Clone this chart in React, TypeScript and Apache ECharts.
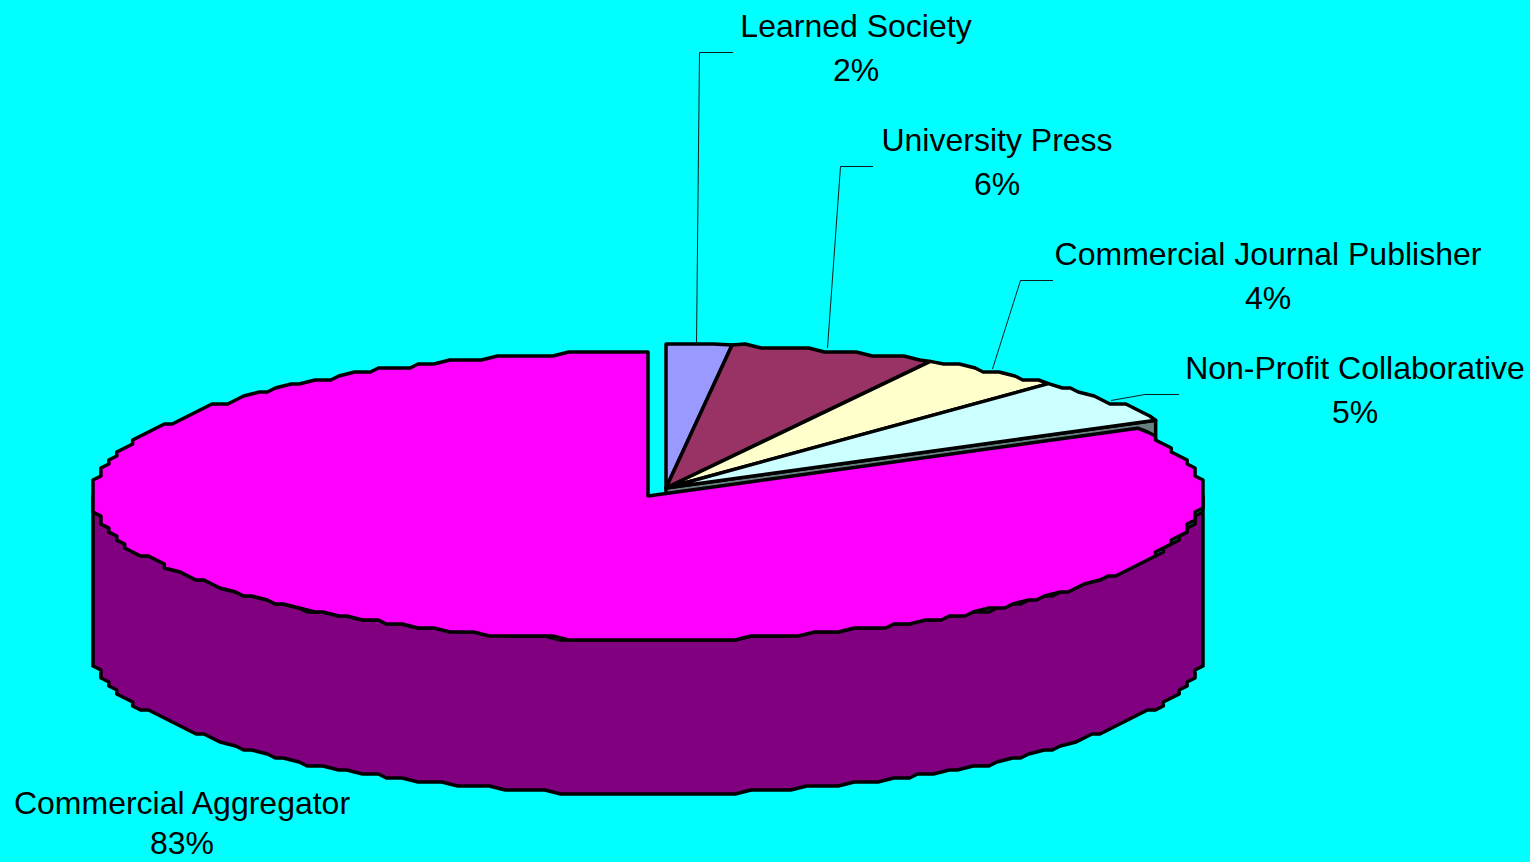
import React, { useEffect, useRef } from "react";
import * as echarts from "echarts";

const categories = ["Learned Society", "University Press", "Commercial Journal Publisher", "Non-Profit Collaborative", "Commercial Aggregator"];
const shares = [1.9, 6.0, 4.2, 5.1, 82.8];
const topColors = ["#9999FF", "#993366", "#FFFFCC", "#CCFFFF", "#FF00FF"];
const sideColors = ["#4D4D80", "#4D1A33", "#808066", "#668080", "#800080"];

const RX = 555, RY = 144, DEPTH = 154;
const pulledCentre: [number, number] = [666, 488];
const mainCentre: [number, number] = [648, 496];
const labelPos: [number, number, number][] = [[856, 26, 70], [997, 140, 184], [1268, 254, 298], [1355, 368, 412], [182, 803, 843]];
const leaders: [number, number][][] = [
  [[733, 52.5], [699.5, 52.5], [696.5, 344]],
  [[873, 166.5], [840.5, 166.5], [827.5, 348]],
  [[1053, 280.5], [1020.5, 280.5], [992.5, 369]],
  [[1179, 394.5], [1145, 394.5], [1111, 400.5]],
];

const total = shares.reduce((a, b) => a + b, 0);
const GX = RX / 70, GY = RY / 36;
const snap = (v: number, g: number) => Math.round(v / g) * g;

function rim(c: [number, number], fromDeg: number, toDeg: number, dy = 0): number[][] {
  const pts: number[][] = [];
  const step = 1.6;
  const n = Math.max(1, Math.round((toDeg - fromDeg) / step));
  for (let i = 0; i <= n; i++) {
    const t = ((fromDeg + ((toDeg - fromDeg) * i) / n) * Math.PI) / 180;
    const x = RX * Math.sin(t);
    const y = -RY * Math.cos(t);
    const edge = i === 0 || i === n;
    pts.push([c[0] + (edge ? x : snap(x, GX)), c[1] + (edge ? y : snap(y, GY)) + dy]);
  }
  return pts;
}

const edgeStyle = { stroke: "#000000", lineWidth: 3.5, lineJoin: "round" as const };

function renderItem(params: any, api: any) {
  const i = params.dataIndex;
  const before = shares.slice(0, i).reduce((a, b) => a + b, 0);
  const from = (before / total) * 360;
  const to = from + (Number(api.value(0)) / total) * 360;
  const isMain = i === categories.length - 1;
  const c = isMain ? mainCentre : pulledCentre;
  const children: any[] = [];

  if (isMain) {
    const topArc = rim(c, 90, 270);
    const lowArc = rim(c, 90, 270, DEPTH).reverse();
    children.push({ type: "polygon", shape: { points: [...topArc, ...lowArc] }, style: { fill: sideColors[i], ...edgeStyle } });
  } else if (i === categories.length - 2) {
    const e = rim(c, to, to)[0];
    children.push({
      type: "polygon",
      shape: { points: [c, e, [e[0], e[1] + DEPTH], [c[0], c[1] + DEPTH]] },
      style: { fill: sideColors[i], ...edgeStyle },
    });
  }
  children.push({ type: "polygon", shape: { points: [c, ...rim(c, from, to)] }, style: { fill: topColors[i], ...edgeStyle } });

  if (leaders[i]) {
    children.push({ type: "polyline", shape: { points: leaders[i] }, style: { stroke: "#0a2020", lineWidth: 1, fill: "none" } });
  }
  const font = { align: "center", verticalAlign: "middle", fontFamily: "Liberation Sans", fontSize: 32, fill: "#000000" };
  children.push({ type: "text", style: { text: categories[i], x: labelPos[i][0], y: labelPos[i][1], ...font } });
  children.push({ type: "text", style: { text: `${Math.round(Number(api.value(0)))}%`, x: labelPos[i][0], y: labelPos[i][2], ...font } });
  return { type: "group", children };
}

export default function App() {
  const ref = useRef<HTMLDivElement>(null);
  useEffect(() => {
    const chart = echarts.init(ref.current!, undefined, { renderer: "svg" });
    chart.setOption({
      animation: false,
      backgroundColor: "#00FFFF",
      series: [
        {
          type: "custom",
          coordinateSystem: "none",
          silent: true,
          renderItem,
          data: shares.map((v, i) => ({ name: categories[i], value: [v] })),
        },
      ],
    });
    return () => chart.dispose();
  }, []);
  return <div ref={ref} style={{ position: "fixed", left: 0, top: 0, width: 1530, height: 862 }} />;
}
